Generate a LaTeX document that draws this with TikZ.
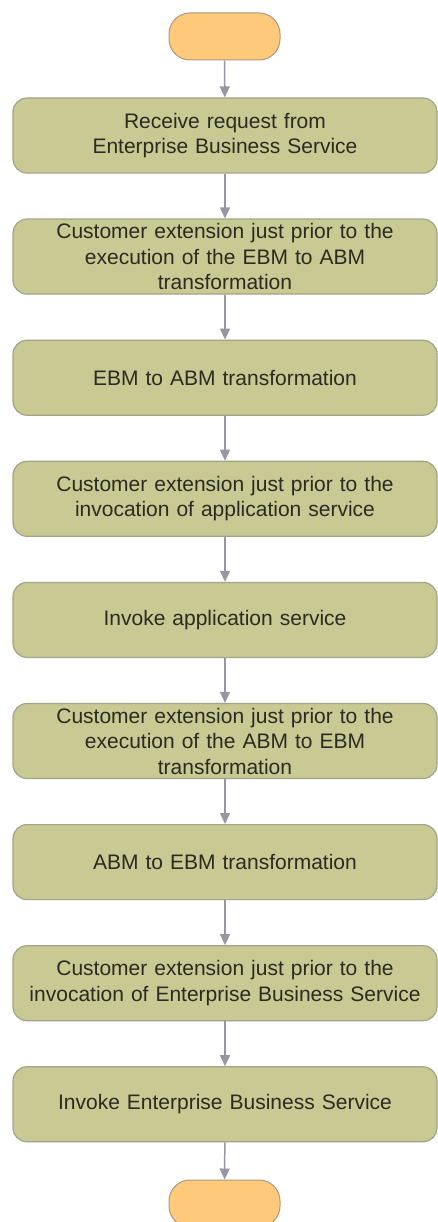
\documentclass[tikz,border=0pt]{standalone}
\usepackage{fontspec}
\setmainfont{Liberation Sans}
\usetikzlibrary{arrows.meta}
\definecolor{boxfill}{HTML}{C9C994}
\definecolor{boxline}{HTML}{A3A38A}
\definecolor{termfill}{HTML}{FEC97A}
\definecolor{termline}{HTML}{A89A80}
\definecolor{arrowcol}{HTML}{9797A2}
\definecolor{txtcol}{HTML}{2B2B22}
\begin{document}
\begin{tikzpicture}[x=1pt,y=-1pt,
  stepbox/.style={draw=boxline, line width=1.2pt, fill=boxfill, rounded corners=14pt,
    minimum width=424pt, minimum height=75pt, align=center, text width=416pt,
    font=\fontsize{21}{25.5}\selectfont, text=txtcol, inner sep=0pt},
  term/.style={draw=termline, line width=1pt, fill=termfill, rounded corners=21pt,
    minimum width=111pt, minimum height=47pt, inner sep=0pt},
  flow/.style={draw=arrowcol, line width=1.5pt, -{Triangle[length=11pt,width=10pt]}}]
\useasboundingbox (0,0) rectangle (438,1222);
\clip (0,0) rectangle (438,1222);
\fill[white] (0,0) rectangle (438,1222);
\node[term] (start) at (224.5,36.5) {};
\node[stepbox] (b1) at (225,135.5) {Receive request from\\Enterprise Business Service};
\node[stepbox] (b2) at (225,256.6) {Customer extension just prior to the\\execution of the EBM to ABM\\transformation};
\node[stepbox] (b3) at (225,377.7) {EBM to ABM transformation};
\node[stepbox] (b4) at (225,498.8) {Customer extension just prior to the\\invocation of application service};
\node[stepbox] (b5) at (225,619.9) {Invoke application service};
\node[stepbox] (b6) at (225,741.0) {Customer extension just prior to the\\execution of the ABM to EBM\\transformation};
\node[stepbox] (b7) at (225,862.1) {ABM to EBM transformation};
\node[stepbox] (b8) at (225,983.2) {Customer extension just prior to the\\invocation of Enterprise Business Service};
\node[stepbox] (b9) at (225,1104.3) {Invoke Enterprise Business Service};
\node[term] (end) at (224.5,1203.5) {};
\draw[flow] (start) -- (b1);
\draw[flow] (b1) -- (b2);
\draw[flow] (b2) -- (b3);
\draw[flow] (b3) -- (b4);
\draw[flow] (b4) -- (b5);
\draw[flow] (b5) -- (b6);
\draw[flow] (b6) -- (b7);
\draw[flow] (b7) -- (b8);
\draw[flow] (b8) -- (b9);
\draw[flow] (b9) -- (end);
\end{tikzpicture}
\end{document}
